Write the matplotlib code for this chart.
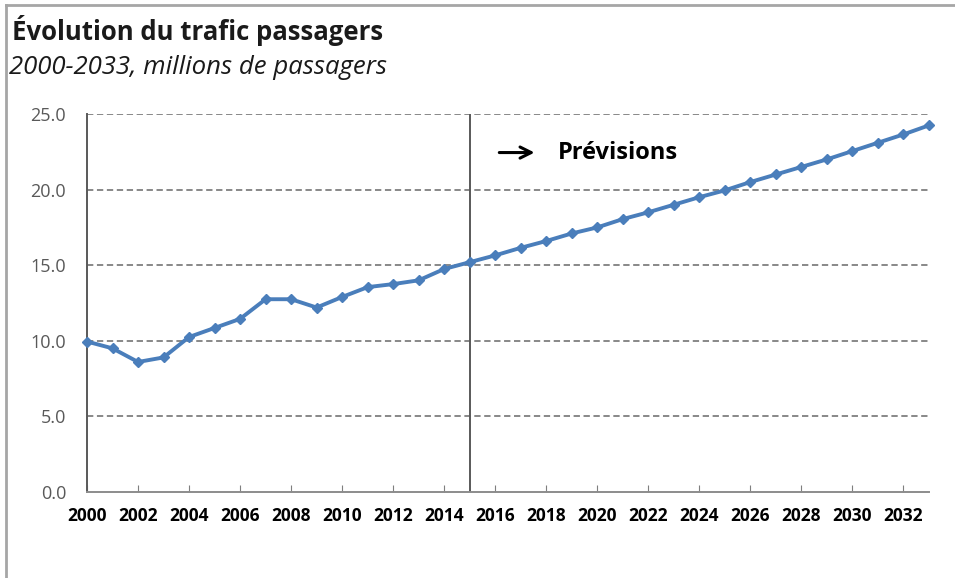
import numpy as np
import matplotlib.pyplot as plt
from matplotlib.lines import Line2D

# data (millions de passagers)
years = list(range(2000, 2034))
passagers = [9.95, 9.5, 8.6, 8.9, 10.25, 10.85, 11.45, 12.75, 12.75, 12.2,
             12.9, 13.55, 13.75, 14.0, 14.75, 15.2, 15.65, 16.15, 16.6, 17.1,
             17.5, 18.05, 18.5, 19.0, 19.5, 19.95, 20.5, 21.0, 21.5, 22.0,
             22.55, 23.1, 23.65, 24.25]
y_ticks = [0, 5, 10, 15, 20, 25]
x_ticks = list(range(2000, 2034, 2))
annee_prevision = 2015

plt.rcParams['font.family'] = ['Open Sans', 'DejaVu Sans']

fig = plt.figure(figsize=(9.55, 5.78), dpi=100)
ax = fig.add_axes([87 / 955, 86 / 578, 842 / 955, 378 / 578])

# grid + forecast separator
for v in y_ticks[1:]:
    ax.axhline(v, color="#7f7f7f", lw=1.3, ls=(0, (3.5, 2)), zorder=1)
ax.plot([annee_prevision, annee_prevision], [0, 25], color="#595959", lw=1.4, zorder=2)

ax.plot(years, passagers, color="#4a7ebb", lw=2.8, marker="D", ms=5.5,
        clip_on=False, zorder=3)

ax.set_xlim(2000, 2033)
ax.set_ylim(0, 25)
ax.set_yticks(y_ticks)
ax.set_yticklabels([f"{v:.1f}" for v in y_ticks], color="#595959", fontsize=13)
ax.set_xticks(x_ticks)
ax.set_xticklabels([str(x) for x in x_ticks], fontsize=12.5, fontweight="bold")
ax.tick_params(axis="y", length=0, pad=15)
ax.tick_params(axis="x", direction="in", length=5, color="#7f7f7f", pad=11)
for s in ["top", "right"]:
    ax.spines[s].set_visible(False)
ax.spines["left"].set_color("#595959")
ax.spines["left"].set_linewidth(1.4)
ax.spines["bottom"].set_color("#8c8c8c")
ax.spines["bottom"].set_linewidth(1.4)

# "Prévisions" label with arrow
ax.annotate("", xy=(2017.65, 22.45), xytext=(2016.05, 22.45),
            arrowprops=dict(arrowstyle="->", lw=2.2, color="black", mutation_scale=20))
ax.text(2018.45, 22.45, "Prévisions", fontsize=17, fontweight="bold", va="center")

# titles
fig.text(12 / 955, 1 - 31 / 578, "Évolution du trafic passagers", fontsize=18.5,
         fontweight="bold", va="center", color="#1a1a1a")
fig.text(9 / 955, 1 - 67 / 578, "2000-2033, millions de passagers", fontsize=18.5,
         style="italic", va="center", color="#1a1a1a")

# outer frame (top and left only)
fig.add_artist(Line2D([6 / 955, 1], [1 - 5 / 578, 1 - 5 / 578], color="#a6a6a6", lw=2,
                      transform=fig.transFigure))
fig.add_artist(Line2D([6 / 955, 6 / 955], [0, 1 - 5 / 578], color="#a6a6a6", lw=2,
                      transform=fig.transFigure))

fig.savefig("out.png", dpi=100)
